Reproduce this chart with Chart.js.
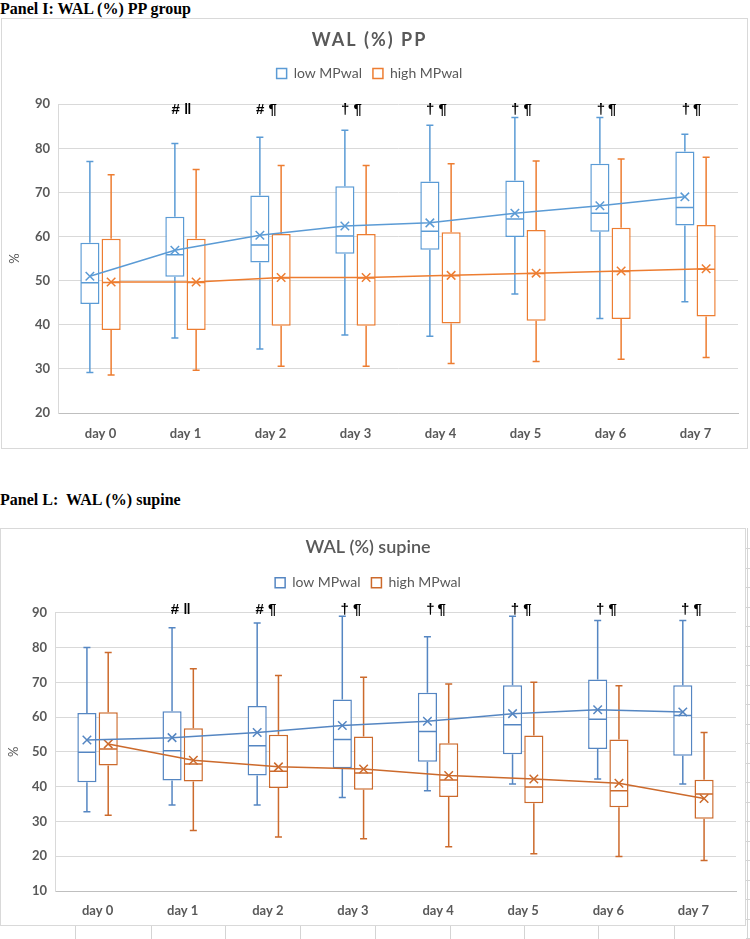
<!DOCTYPE html>
<html><head><meta charset="utf-8">
<script src="https://cdn.jsdelivr.net/npm/chart.js@4.4.1/dist/chart.umd.min.js"></script>
<style>
body{margin:0;width:750px;height:939px;background:#fff;position:relative;overflow:hidden}
.hdr{position:absolute;left:0;font:bold 16px "Liberation Serif","Times New Roman",serif;color:#000;white-space:pre;line-height:16px}
.frame{position:absolute;border:1px solid #d9d9d9;box-sizing:border-box}
canvas{position:absolute}
.ln{position:absolute;background:#d4d4d4}
</style></head>
<body>
<div class="hdr" style="top:1px">Panel I: WAL (%) PP group</div>
<div class="frame" style="left:1px;top:18px;width:747px;height:431px"></div>
<canvas id="c1" width="747" height="430" style="left:1px;top:18px"></canvas>

<div class="hdr" style="top:492px">Panel L:  WAL (%) supine</div>
<div class="frame" style="left:0px;top:528px;width:746px;height:398px"></div>
<canvas id="c2" width="746" height="397" style="left:0px;top:528px"></canvas>
<div id="sheet"></div>

<script>
// ---------- data ----------
const days = ['day 0','day 1','day 2','day 3','day 4','day 5','day 6','day 7'];
const seriesNames = ['low MPwal','high MPwal'];

// Panel I : WAL (%) PP
const ppLowMin  = [29.2, 37.0, 34.5, 37.7, 37.4, 47.0, 41.4, 45.2];
const ppLowQ1   = [44.7, 50.9, 54.1, 56.1, 57.0, 59.9, 61.1, 62.5];
const ppLowMed  = [49.5, 55.9, 58.1, 60.1, 61.2, 64.0, 65.3, 66.6];
const ppLowQ3   = [58.6, 64.5, 69.3, 71.4, 72.5, 72.7, 76.5, 79.3];
const ppLowMax  = [77.0, 81.1, 82.5, 84.1, 85.2, 87.0, 87.0, 83.2];
const ppLowMean = [51.0, 56.9, 60.3, 62.4, 63.1, 65.3, 67.0, 69.0];

const ppHighMin  = [28.6, 29.7, 30.6, 30.6, 31.2, 31.7, 32.2, 32.6];
const ppHighQ1   = [38.8, 38.8, 39.8, 39.8, 40.3, 40.9, 41.3, 41.9];
const ppHighMed  = [49.6, 49.6, 50.6, 50.6, 51.1, 51.6, 52.1, 52.6];
const ppHighQ3   = [59.5, 59.5, 60.6, 60.6, 61.0, 61.5, 62.0, 62.6];
const ppHighMax  = [74.0, 75.2, 76.1, 76.1, 76.5, 77.1, 77.6, 78.0];
const ppHighMean = [49.7, 49.7, 50.7, 50.7, 51.2, 51.7, 52.2, 52.7];

const ppNotes = ['', '# \u2016', '# \u00b6', '\u2020 \u00b6', '\u2020 \u00b6', '\u2020 \u00b6', '\u2020\u2009\u00b6', '\u2020\u2009\u00b6'];

// Panel L : WAL (%) supine
const supLowMin  = [32.8, 34.7, 34.7, 36.9, 38.8, 40.8, 42.2, 40.8];
const supLowQ1   = [41.3, 41.8, 43.2, 45.3, 47.2, 49.3, 50.8, 48.9];
const supLowMed  = [49.9, 50.3, 51.8, 53.6, 55.9, 57.8, 59.4, 60.5];
const supLowQ3   = [61.2, 61.7, 63.2, 65.1, 67.0, 69.2, 70.8, 69.2];
const supLowMax  = [80.0, 85.7, 87.1, 89.0, 83.1, 89.0, 87.8, 87.8];
const supLowMean = [53.4, 54.1, 55.6, 57.6, 58.8, 61.0, 62.1, 61.5];

const supHighMin  = [31.8, 27.4, 25.5, 25.0, 22.7, 20.7, 19.9, 18.8];
const supHighQ1   = [46.1, 41.5, 39.6, 39.1, 37.0, 35.2, 34.1, 30.8];
const supHighMed  = [50.8, 46.5, 44.4, 43.9, 41.9, 39.9, 38.8, 37.9];
const supHighQ3   = [61.4, 56.8, 54.9, 54.4, 52.5, 54.7, 53.6, 42.0];
const supHighMax  = [78.6, 73.9, 72.0, 71.5, 69.5, 70.0, 69.0, 55.6];
const supHighMean = [52.3, 47.6, 45.7, 45.1, 43.2, 42.2, 41.0, 36.6];

const supNotes = ['', '# \u2016', '# \u00b6', '\u2020 \u00b6', '\u2020\u2009\u00b6', '\u2020 \u00b6', '\u2020 \u00b6', '\u2020 \u00b6'];

// ---------- chart builder ----------
const SHIFT = 0.125;   // each series' box sits a quarter-slot left/right of its day
const GREY = '#595959';

function makeChart(id, cfg) {
  const series = [
    {color: cfg.blue,   min: cfg.low.min,  q1: cfg.low.q1,  med: cfg.low.med,  q3: cfg.low.q3,  max: cfg.low.max},
    {color: cfg.orange, min: cfg.high.min, q1: cfg.high.q1, med: cfg.high.med, q3: cfg.high.q3, max: cfg.high.max}
  ];
  const whiskers = {
    id: 'whiskers',
    afterDatasetDraw(chart, args) {
      const s = series[args.index];
      if (!s) return;
      const ys = chart.scales.y, ctx = chart.ctx;
      const p = v => ys.getPixelForValue(v);
      ctx.save();
      ctx.strokeStyle = s.color; ctx.lineWidth = 1.5;
      args.meta.data.forEach((bar, i) => {
        const x = bar.x, hw = bar.width / 2, cap = 3.5;
        ctx.beginPath();
        ctx.moveTo(x, p(s.q3[i])); ctx.lineTo(x, p(s.max[i]));
        ctx.moveTo(x - cap, p(s.max[i])); ctx.lineTo(x + cap, p(s.max[i]));
        ctx.moveTo(x, p(s.q1[i])); ctx.lineTo(x, p(s.min[i]));
        ctx.moveTo(x - cap, p(s.min[i])); ctx.lineTo(x + cap, p(s.min[i]));
        ctx.moveTo(x - hw + 0.75, p(s.med[i])); ctx.lineTo(x + hw - 0.75, p(s.med[i]));
        ctx.stroke();
      });
      ctx.restore();
    }
  };
  const notes = {
    id: 'notes',
    afterDraw(chart) {
      const ctx = chart.ctx, xs = chart.scales.x, ys = chart.scales.y;
      ctx.save();
      ctx.fillStyle = '#000';
      ctx.font = 'bold 15px "Liberation Sans", "DejaVu Sans", sans-serif';
      ctx.textAlign = 'center'; ctx.textBaseline = 'middle';
      cfg.notes.forEach((t, i) => {
        if (t) ctx.fillText(t, xs.getPixelForValue(i) + cfg.noteDx, ys.getPixelForValue(cfg.yMax) + cfg.noteDy);
      });
      ctx.restore();
    }
  };
  const sizing = {
    id: 'sizing',
    beforeInit(chart) {
      const lg = chart.legend;
      const origFit = lg.fit;
      lg.fit = function () { origFit.call(this); this.height = cfg.legendH; };
      if (cfg.titleSpacing) {
        const tb = chart.titleBlock;
        const origDraw = tb.draw;
        tb.draw = function () {
          chart.ctx.save(); chart.ctx.letterSpacing = cfg.titleSpacing;
          origDraw.call(this); chart.ctx.restore();
        };
      }
    }
  };
  const tickFont = {family: 'Lato', size: 13, weight: 'bold'};
  const boxDs = (name, s, side, color) => ({
    label: name, xAxisID: 'x', yAxisID: 'y',
    data: s.q1.map((v, i) => ({x: i + side * SHIFT, y: [v, s.q3[i]]})),
    backgroundColor: '#ffffff', borderColor: color, borderWidth: 1.5, borderSkipped: false,
    grouped: false, categoryPercentage: 1, barPercentage: 0.9, order: 2
  });
  const meanDs = (name, s, side, color) => ({
    type: 'line', label: name, xAxisID: 'x', yAxisID: 'y',
    data: s.mean.map((v, i) => ({x: i + side * SHIFT, y: v})),
    borderColor: color, borderWidth: 1.5, fill: false, tension: 0,
    pointStyle: 'crossRot', pointRadius: 6, pointBorderWidth: 1.5,
    pointBorderColor: color, pointBackgroundColor: color, order: 1
  });
  return new Chart(document.getElementById(id), {
    type: 'bar',
    data: {
      datasets: [
        boxDs(seriesNames[0], cfg.low, -1, cfg.blue),
        boxDs(seriesNames[1], cfg.high, 1, cfg.orange),
        meanDs('low MPwal mean', cfg.low, -1, cfg.blue),
        meanDs('high MPwal mean', cfg.high, 1, cfg.orange)
      ]
    },
    options: {
      responsive: false, animation: false,
      layout: {padding: {left: 0, right: cfg.padR, top: 0, bottom: 0}},
      plugins: {
        title: {display: true, text: cfg.title, color: GREY,
                font: {family: 'Lato', size: cfg.titleSize, weight: cfg.titleWeight},
                padding: {top: cfg.titleTop, bottom: cfg.titleBottom}},
        legend: {display: true, position: 'top',
                 labels: {filter: item => item.datasetIndex < 2, boxWidth: 10, boxHeight: 10,
                          color: GREY, font: {family: 'Lato', size: 14}, padding: 11}},
        tooltip: {enabled: false}
      },
      scales: {
        x: {type: 'linear', min: -0.5, max: days.length - 0.5, offset: false, bounds: 'data',
            grid: {display: false, drawTicks: false},
            border: {color: '#bfbfbf', width: 1},
            ticks: {color: GREY, font: tickFont, padding: cfg.xPad, autoSkip: false, maxRotation: 0,
                    callback: v => (days[v] !== undefined ? days[v] : '')},
            afterBuildTicks(s) { s.ticks = days.map((d, i) => ({value: i})); s.min = -0.5; s.max = days.length - 0.5; },
            afterFit(s) { s.height = cfg.xH; }},
        y: {min: cfg.yMin, max: cfg.yMax,
            ticks: {stepSize: 10, color: GREY, font: tickFont, padding: 8},
            grid: {drawTicks: false, color: c => (c.tick && c.tick.value === cfg.yMin) ? '#bfbfbf' : '#d9d9d9', lineWidth: 1},
            border: {color: '#d9d9d9', width: 1},
            title: {display: true, text: '%', color: GREY, font: {family: 'Lato', size: 13}, padding: {top: 6, bottom: 0}},
            afterFit(s) { s.width = cfg.yW; }}
      }
    },
    plugins: [whiskers, notes, sizing]
  });
}

makeChart('c1', {
  title: 'WAL (%) PP', titleSize: 18, titleWeight: 'bold', titleSpacing: '2px', titleTop: 11, titleBottom: 5,
  legendH: 48.6, xH: 35, xPad: 13, yW: 57, padR: 10,
  yMin: 20, yMax: 90, blue: '#5b9bd5', orange: '#ed7d31',
  noteDx: -4, noteDy: 6, notes: ppNotes,
  low:  {min: ppLowMin,  q1: ppLowQ1,  med: ppLowMed,  q3: ppLowQ3,  max: ppLowMax,  mean: ppLowMean},
  high: {min: ppHighMin, q1: ppHighQ1, med: ppHighMed, q3: ppHighQ3, max: ppHighMax, mean: ppHighMean}
});

makeChart('c2', {
  title: 'WAL (%) supine', titleSize: 18, titleWeight: '600', titleSpacing: null, titleTop: 8, titleBottom: 7.2,
  legendH: 48, xH: 34, xPad: 12, yW: 55, padR: 10,
  yMin: 10, yMax: 90, blue: '#5586c2', orange: '#cc6a2c',
  noteDx: -2, noteDy: -3, notes: supNotes,
  low:  {min: supLowMin,  q1: supLowQ1,  med: supLowMed,  q3: supLowQ3,  max: supLowMax,  mean: supLowMean},
  high: {min: supHighMin, q1: supHighQ1, med: supHighMed, q3: supHighQ3, max: supHighMax, mean: supHighMean}
});

// spreadsheet cell borders around panel L (decoration)
(function () {
  const sheet = document.getElementById('sheet');
  const add = (l, t, w, h) => { const d = document.createElement('div'); d.className = 'ln';
    d.style.cssText = `left:${l}px;top:${t}px;width:${w}px;height:${h}px`; sheet.appendChild(d); };
  [75, 151, 225, 300, 375, 450, 524, 598, 674].forEach(x => add(x, 926, 1, 13));
  add(747, 528, 1, 411);
  for (let y = 548; y < 939; y += 19.5) add(746, Math.round(y), 4, 1);
})();
</script>
</body></html>
